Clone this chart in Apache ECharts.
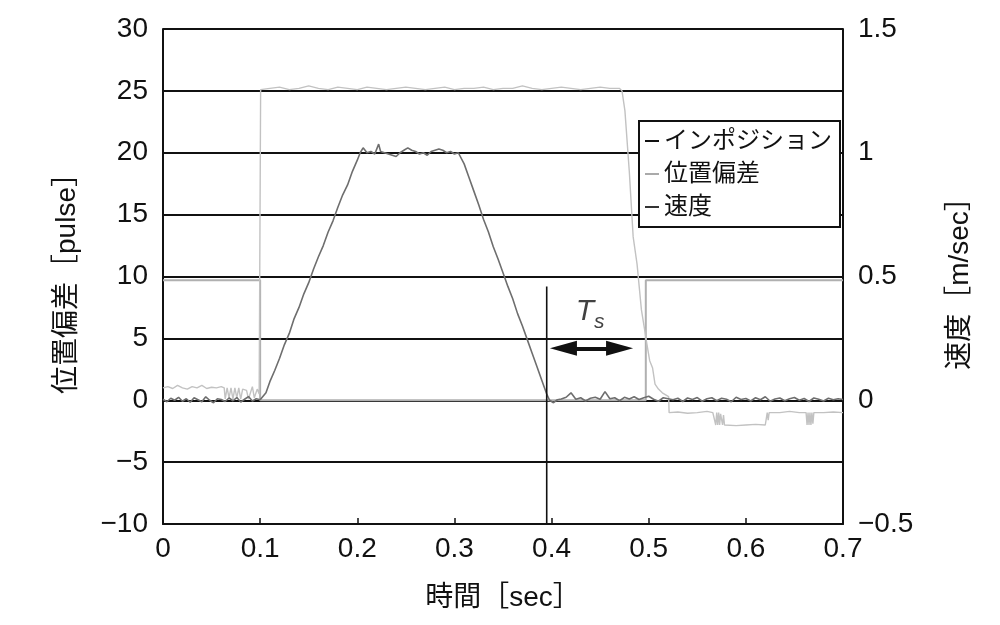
<!DOCTYPE html>
<html>
<head>
<meta charset="utf-8">
<script src="https://cdn.jsdelivr.net/npm/echarts@6/dist/echarts.min.js"></script>
<style>
html,body{margin:0;padding:0;background:#fff;}
#c{width:1000px;height:625px;}
</style>
</head>
<body>
<div id="c"></div>
<script>
// ---- tick labels / names ----
const xTicks = [0, 0.1, 0.2, 0.3, 0.4, 0.5, 0.6, 0.7];
const xName = '時間［sec］';
const yLeftName = '位置偏差［pulse］';
const yRightName = '速度［m/sec］';
const seriesNames = ['インポジション', '位置偏差', '速度'];

// ---- インポジション (in-position signal, left axis) ----
const inPosT = [0, 0.1, 0.1, 0.497, 0.497, 0.7];
const inPosV = [9.7, 9.7, 0, 0, 9.7, 9.7];

// ---- 位置偏差 (position deviation, pulse, left axis) ----
const posT = [
  0, 0.005, 0.01, 0.015, 0.02, 0.025, 0.03, 0.035, 0.04, 0.045, 0.05, 0.055, 0.06, 0.063,
  0.064, 0.066, 0.068, 0.07, 0.072, 0.074, 0.076, 0.078, 0.08, 0.082, 0.086, 0.088, 0.09,
  0.092, 0.094, 0.097, 0.099, 0.1,
  0.1005, 0.11, 0.12, 0.13, 0.14, 0.15, 0.16, 0.17, 0.18, 0.19, 0.2, 0.21, 0.22, 0.23, 0.24,
  0.25, 0.26, 0.27, 0.28, 0.29, 0.3, 0.31, 0.32, 0.33, 0.34, 0.35, 0.36, 0.37, 0.38, 0.39,
  0.4, 0.41, 0.42, 0.43, 0.44, 0.45, 0.46, 0.47,
  0.4725, 0.4755, 0.48, 0.484, 0.488, 0.4925, 0.496, 0.498, 0.501, 0.504, 0.5065, 0.51,
  0.514, 0.5205, 0.521,
  0.53, 0.54, 0.55, 0.56, 0.566, 0.568, 0.569, 0.570, 0.571, 0.572, 0.573, 0.574, 0.576,
  0.577, 0.578, 0.579, 0.58, 0.59, 0.6, 0.61, 0.62, 0.622, 0.623, 0.624, 0.626,
  0.635, 0.645, 0.655, 0.662, 0.663, 0.664, 0.665, 0.666, 0.667, 0.668, 0.669, 0.67,
  0.68, 0.69, 0.7
];
const posV = [
  1.0, 1.1, 0.95, 1.2, 1.0, 0.9, 1.1, 1.0, 1.2, 0.95, 1.05, 1.0, 1.1, 1.0,
  0.1, 1.0, 0.2, 1.0, 0.1, 1.0, 0.2, 1.0, 0.1, 0.9, 0.8, 0.1, 0.1,
  1.1, 0.2, 0.9, 0.5, 0.5,
  25.1, 25.2, 25.3, 25.1, 25.2, 25.4, 25.2, 25.1, 25.3, 25.2, 25.1, 25.3, 25.2, 25.1, 25.2,
  25.3, 25.2, 25.1, 25.2, 25.3, 25.1, 25.2, 25.2, 25.3, 25.1, 25.2, 25.2, 25.4, 25.2, 25.1,
  25.2, 25.3, 25.2, 25.1, 25.2, 25.3, 25.2, 25.2,
  25.0, 23.4, 18.5, 13.2, 11.0, 7.3, 5.6, 4.6, 3.2, 2.6, 1.3, 0.9,
  0.6, 0.3, -1.0,
  -0.95, -1.05, -1.0, -0.9, -1.0, -1.0, -2.0, -1.0, -2.0, -1.0, -2.0, -1.1, -2.0,
  -1.2, -2.0, -1.9, -2.0, -2.05, -2.0, -1.95, -2.0, -1.0, -1.6, -1.0, -0.95,
  -1.0, -0.9, -1.0, -1.0, -2.0, -1.0, -2.0, -1.0, -2.0, -1.0, -1.9, -1.0,
  -1.0, -0.95, -1.0
];

// ---- 速度 (velocity, m/sec, right axis) ----
const velT = [
  0, 0.004, 0.008, 0.012, 0.016, 0.02, 0.024, 0.028, 0.032, 0.036, 0.04, 0.044, 0.048,
  0.052, 0.056, 0.06, 0.064, 0.068, 0.072, 0.076, 0.08, 0.084, 0.088, 0.092, 0.096, 0.1, 0.102,
  0.106, 0.11, 0.115, 0.12, 0.125, 0.13, 0.135, 0.14, 0.145, 0.15, 0.155, 0.16, 0.165, 0.17,
  0.175, 0.18, 0.185, 0.19, 0.195, 0.2, 0.203,
  0.206, 0.21, 0.214, 0.218, 0.222, 0.224, 0.228, 0.232, 0.236, 0.24, 0.244, 0.248, 0.252,
  0.256, 0.26, 0.264, 0.268, 0.272, 0.276, 0.28, 0.284, 0.288, 0.292, 0.296, 0.3, 0.304,
  0.31, 0.315, 0.32, 0.325, 0.33, 0.335, 0.34, 0.345, 0.35, 0.355, 0.36, 0.365, 0.37, 0.375,
  0.38, 0.385, 0.39, 0.395, 0.398, 0.402, 0.406,
  0.41, 0.415, 0.42, 0.425, 0.43, 0.435, 0.44, 0.445, 0.45, 0.455, 0.46, 0.465, 0.47, 0.475,
  0.48, 0.485, 0.49, 0.495, 0.5, 0.505, 0.51, 0.515, 0.52, 0.525, 0.53, 0.535, 0.54, 0.545,
  0.55, 0.555, 0.56, 0.565, 0.57, 0.575, 0.58, 0.585, 0.59, 0.595, 0.6, 0.605, 0.61, 0.615,
  0.62, 0.625, 0.63, 0.635, 0.64, 0.645, 0.65, 0.655, 0.66, 0.665, 0.67, 0.675, 0.68, 0.685,
  0.69, 0.695, 0.7
];
const velV = [
  0.004, -0.006, 0.008, 0.0, 0.012, -0.004, 0.006, -0.008, 0.01, 0.002, -0.006, 0.014, 0.0,
  -0.01, 0.006, 0.003, -0.005, 0.009, -0.002, 0.011, -0.007, 0.004, 0.015, -0.003, 0.006, 0.002, 0.0,
  0.03, 0.075, 0.12, 0.17, 0.225, 0.27, 0.33, 0.375, 0.43, 0.475, 0.53, 0.58, 0.625, 0.68,
  0.725, 0.78, 0.83, 0.87, 0.925, 0.97, 1.0,
  1.02, 1.0, 1.005, 0.995, 1.035, 1.005, 1.0, 0.995, 0.99, 0.985, 1.0, 1.01, 1.02,
  1.01, 1.005, 0.995, 1.0, 0.99, 1.005, 1.01, 1.015, 1.01, 1.0, 1.005, 0.995, 1.0,
  0.955, 0.9, 0.845, 0.79, 0.73, 0.68, 0.62, 0.57, 0.515, 0.46, 0.41, 0.35, 0.3, 0.245,
  0.19, 0.135, 0.08, 0.025, 0.0, -0.01, 0.002,
  0.005, 0.012, 0.03, 0.004, 0.01, -0.003, 0.008, 0.012, 0.004, 0.035, 0.006, 0.01, -0.002, 0.012,
  0.005, 0.014, 0.003, 0.01, 0.016, 0.004, -0.004, 0.01, 0.006, 0.002, 0.008, -0.005, 0.009, 0.003,
  0.011, -0.004, 0.006, 0.01, -0.002, 0.008, 0.004, -0.006, 0.012, 0.003, 0.007, -0.003, 0.01, 0.002,
  0.014, -0.004, 0.005, 0.009, -0.002, 0.006, 0.011, 0.0, 0.007, -0.005, 0.009, 0.004, -0.003, 0.008,
  0.002, 0.006, 0.003
];

// ---- Ts annotation (data coordinates) ----
const tsStart = 0.395;        // velocity reaches zero (vertical marker)
const tsMarkerTop = 9.2;      // top of vertical marker
const tsArrowFrom = 0.4122;   // centre of left arrow head
const tsArrowTo = 0.4700;     // centre of right arrow head
const tsArrowLevel = 4.2;     // arrow height (pulse)
const tsLabelPos = [0.4396, 6.9];
const axisMin = -10;

const zip = (a, b) => a.map((v, i) => [v, b[i]]);
const minus = v => String(v).replace('-', '\u2212');

const FONT = "'Liberation Sans','Noto Sans CJK JP',sans-serif";
const chart = echarts.init(document.getElementById('c'));

chart.setOption({
  animation: false,
  backgroundColor: '#fff',
  textStyle: { fontFamily: FONT },
  grid: { left: 163, right: 157, top: 29, bottom: 101 },
  legend: {
    orient: 'vertical',
    left: 639, top: 121,
    backgroundColor: '#fff',
    borderColor: '#111', borderWidth: 2, borderRadius: 0,
    padding: [7, 8, 7, 6],
    itemGap: 7,
    itemWidth: 14, itemHeight: 2,
    icon: 'rect',
    textStyle: { fontSize: 24, color: '#111', fontFamily: FONT, lineHeight: 26 },
    data: [
      { name: seriesNames[0], itemStyle: { color: '#111' } },
      { name: seriesNames[1], itemStyle: { color: '#aaa' } },
      { name: seriesNames[2], itemStyle: { color: '#333' } }
    ]
  },
  xAxis: {
    type: 'value', min: xTicks[0], max: xTicks[xTicks.length - 1], interval: 0.1,
    name: xName, nameLocation: 'middle', nameGap: 60,
    nameTextStyle: { fontSize: 28, color: '#111', fontFamily: FONT },
    axisLine: { show: true, onZero: false, lineStyle: { color: '#111', width: 2 } },
    axisTick: { show: true, inside: true, length: 6, lineStyle: { color: '#111', width: 1.5 } },
    axisLabel: { fontSize: 28, color: '#111', margin: 11, formatter: v => String(+v.toFixed(1)) },
    splitLine: { show: false }
  },
  yAxis: [
    {
      type: 'value', min: axisMin, max: 30, interval: 5,
      name: yLeftName, nameLocation: 'middle', nameGap: 82, nameRotate: 90,
      nameTextStyle: { fontSize: 28, color: '#111', fontFamily: FONT },
      axisLine: { show: true, lineStyle: { color: '#111', width: 2 } },
      axisTick: { show: false },
      axisLabel: { fontSize: 28, color: '#111', margin: 15, formatter: v => minus(v) },
      splitLine: { show: true, lineStyle: { color: '#111', width: 2 } }
    },
    {
      type: 'value', min: -0.5, max: 1.5, interval: 0.5,
      name: yRightName, nameLocation: 'middle', nameGap: 103, nameRotate: 90,
      nameTextStyle: { fontSize: 28, color: '#111', fontFamily: FONT },
      axisLine: { show: true, lineStyle: { color: '#111', width: 2 } },
      axisTick: { show: false },
      axisLabel: { fontSize: 28, color: '#111', margin: 15, formatter: v => minus(+v.toFixed(1)) },
      splitLine: { show: false }
    }
  ],
  series: [
    {
      name: seriesNames[0], type: 'line', yAxisIndex: 0, showSymbol: false, symbol: 'none',
      data: zip(inPosT, inPosV),
      itemStyle: { color: '#111' },
      lineStyle: { color: '#b0b0b0', width: 2 },
      z: 2
    },
    {
      name: seriesNames[1], type: 'line', yAxisIndex: 0, showSymbol: false, symbol: 'none',
      data: zip(posT, posV),
      itemStyle: { color: '#aaa' },
      lineStyle: { color: '#c2c2c2', width: 1.4 },
      z: 3
    },
    {
      name: seriesNames[2], type: 'line', yAxisIndex: 1, showSymbol: false, symbol: 'none',
      data: zip(velT, velV),
      itemStyle: { color: '#333' },
      lineStyle: { color: '#6e6e6e', width: 1.6 },
      z: 4
    },
    {
      name: 'Ts', type: 'line', yAxisIndex: 0, showSymbol: false, symbol: 'none', silent: true,
      data: [[tsStart, axisMin], [tsStart, tsMarkerTop]],
      lineStyle: { color: '#111', width: 1.6 },
      z: 5,
      markLine: {
        silent: true,
        symbol: ['triangle', 'triangle'],
        symbolSize: [15, 27],
        lineStyle: { color: '#111', width: 4, type: 'solid' },
        label: { show: false },
        data: [[{ coord: [tsArrowFrom, tsArrowLevel] }, { coord: [tsArrowTo, tsArrowLevel] }]]
      }
    },
    {
      name: 'TsLabel', type: 'scatter', yAxisIndex: 0, silent: true,
      symbolSize: 1, itemStyle: { color: 'rgba(0,0,0,0)' },
      data: [tsLabelPos],
      label: {
        show: true, position: 'inside',
        formatter: '{t|T}{s|s}',
        rich: {
          t: { fontSize: 30, fontStyle: 'italic', color: '#111', fontFamily: FONT, lineHeight: 36, verticalAlign: 'top' },
          s: { fontSize: 21, fontStyle: 'italic', color: '#111', fontFamily: FONT, lineHeight: 22, verticalAlign: 'bottom' }
        }
      },
      z: 6
    }
  ]
});
</script>
</body>
</html>
